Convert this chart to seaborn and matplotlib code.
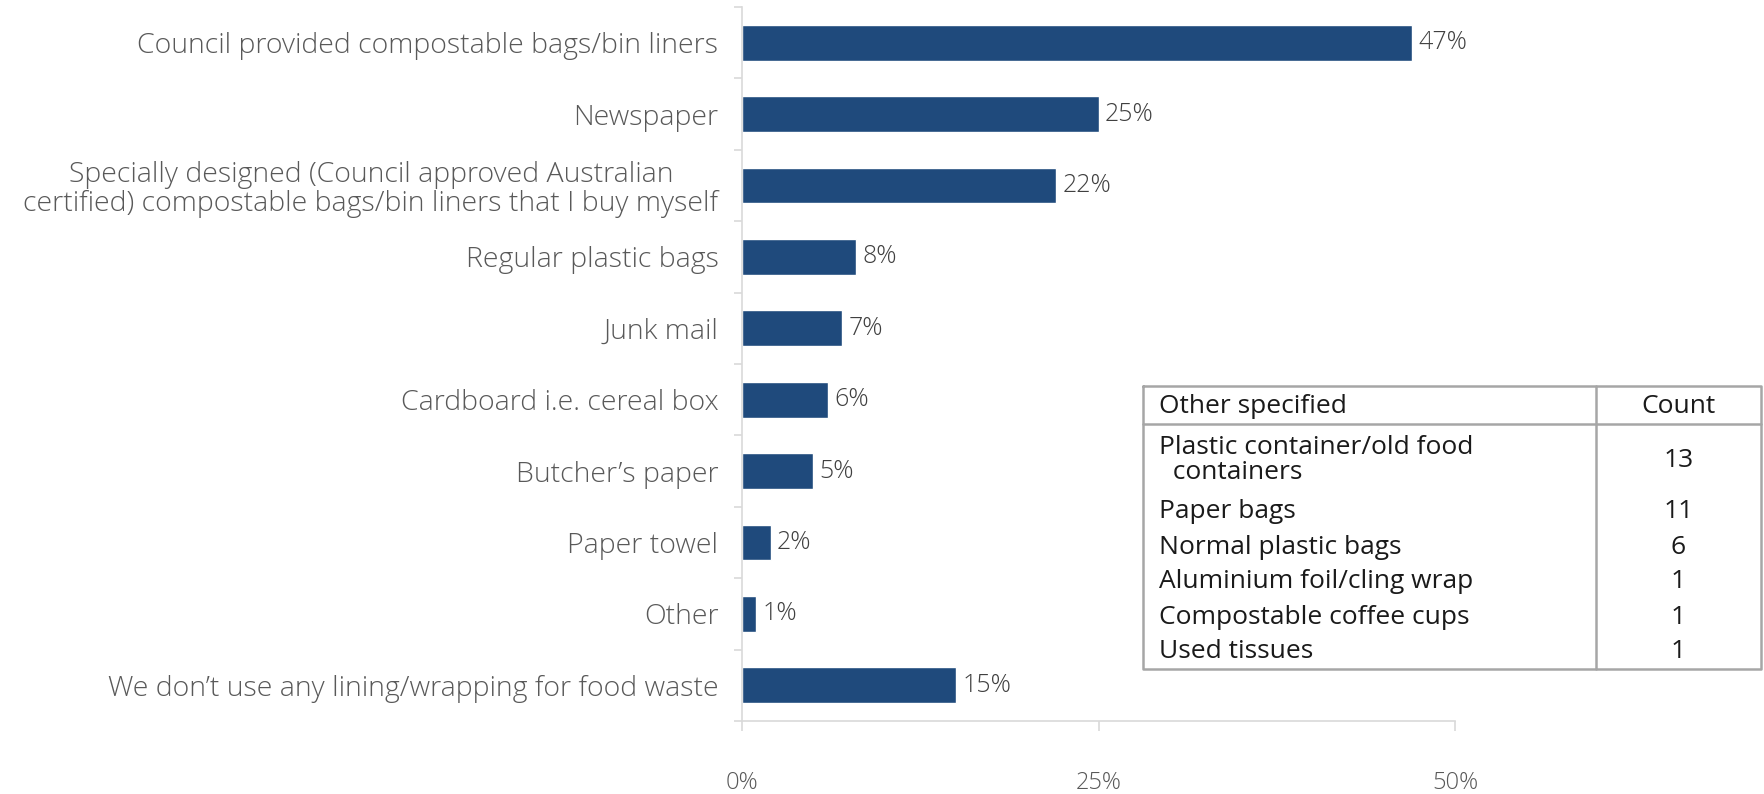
import numpy as np
import pandas as pd
import matplotlib
matplotlib.use("Agg")
import matplotlib.pyplot as plt
from matplotlib.lines import Line2D
import seaborn as sns

# Food waste lining / wrapping used (% of respondents)
categories = [
    "Council provided compostable bags/bin liners",
    "Newspaper",
    "Specially designed (Council approved Australian\ncertified) compostable bags/bin liners that I buy myself",
    "Regular plastic bags",
    "Junk mail",
    "Cardboard i.e. cereal box",
    "Butcher\u2019s paper",
    "Paper towel",
    "Other",
    "We don\u2019t use any lining/wrapping for food waste",
]
shares = [47, 25, 22, 8, 7, 6, 5, 2, 1, 15]
x_ticks = [0, 25, 50]

# Breakdown of "Other" responses
other_items = [
    "Plastic container/old food\n  containers",
    "Paper bags",
    "Normal plastic bags",
    "Aluminium foil/cling wrap",
    "Compostable coffee cups",
    "Used tissues",
]
other_counts = [13, 11, 6, 1, 1, 1]

W, H = 1764, 794
BAR = "#1F4A7C"
AXIS_GREY = "#D9D9D9"
LABEL_GREY = "#595959"
FONT = "Open Sans"

sns.set_theme(style="white")
plt.rcParams["font.family"] = [FONT, "DejaVu Sans"]
plt.rcParams["font.weight"] = "light"

df = pd.DataFrame({"category": categories, "share": shares})

fig = plt.figure(figsize=(W / 100, H / 100), dpi=100)
ax = fig.add_axes([742 / W, 1 - 721 / H, (1455 - 742) / W, (721 - 7) / H])

sns.barplot(data=df, x="share", y="category", orient="h", color=BAR,
            width=0.5, saturation=1, ax=ax)

ax.set_xlim(0, 50)
ax.set_ylim(len(categories) - 0.5, -0.5)
ax.set_xlabel("")
ax.set_ylabel("")

# value labels
for i, v in enumerate(shares):
    ax.text(v + 0.45, i, f"{v}%", va="center", ha="left",
            fontsize=18, color="#404040")

# x axis
ax.set_xticks(x_ticks)
ax.set_xticklabels([f"{t}%" for t in x_ticks])
ax.tick_params(axis="x", bottom=True, length=7, width=1.2, color=AXIS_GREY,
               pad=29, labelsize=17, labelcolor=LABEL_GREY)

# y axis: labels at centres, tick marks at category boundaries
ax.set_yticks(np.arange(-0.5, len(categories), 1), minor=True)
ax.tick_params(axis="y", which="major", left=False, length=0, pad=17,
               labelsize=20.5, labelcolor=LABEL_GREY)
ax.tick_params(axis="y", which="minor", left=True, length=6, width=1.2,
               color=AXIS_GREY)
for lab in ax.get_yticklabels():
    lab.set_horizontalalignment("right")
    lab.set_multialignment("center")
    lab.set_linespacing(1.05)

for side in ["top", "right"]:
    ax.spines[side].set_visible(False)
for side in ["left", "bottom"]:
    ax.spines[side].set_color(AXIS_GREY)
    ax.spines[side].set_linewidth(1.2)
ax.grid(False)


# "Other specified" table in figure pixel coordinates
def fx(x):
    return x / W


def fy(y):
    return 1 - y / H


T_L, T_R, T_T, T_B, T_DIV, T_HEAD = 1143, 1761, 386, 669, 1596, 424
BORDER = "#A6A6A6"
for xs, ys in [
    ([T_L, T_R, T_R, T_L, T_L], [T_T, T_T, T_B, T_B, T_T]),
    ([T_DIV, T_DIV], [T_T, T_B]),
    ([T_L, T_R], [T_HEAD, T_HEAD]),
]:
    fig.add_artist(Line2D([fx(x) for x in xs], [fy(y) for y in ys],
                          color=BORDER, lw=1.8, transform=fig.transFigure))

TXT = "#1A1A1A"
TS = 19
TW = "normal"
count_x = (T_DIV + T_R) / 2
fig.text(fx(1159), fy(407), "Other specified", ha="left", va="center",
         fontsize=TS, color=TXT, fontweight=TW)
fig.text(fx(count_x), fy(407), "Count", ha="center", va="center",
         fontsize=TS, color=TXT, fontweight=TW)

row_y = [460, 511, 547, 582, 618, 651]
for item, cnt, y in zip(other_items, other_counts, row_y):
    fig.text(fx(1159), fy(y), item, ha="left", va="center", fontsize=TS,
             color=TXT, linespacing=1.0, fontweight=TW)
    fig.text(fx(count_x), fy(y), str(cnt), ha="center", va="center",
             fontsize=TS, color=TXT, fontweight=TW)

fig.savefig("out.png", dpi=100, facecolor="white")
